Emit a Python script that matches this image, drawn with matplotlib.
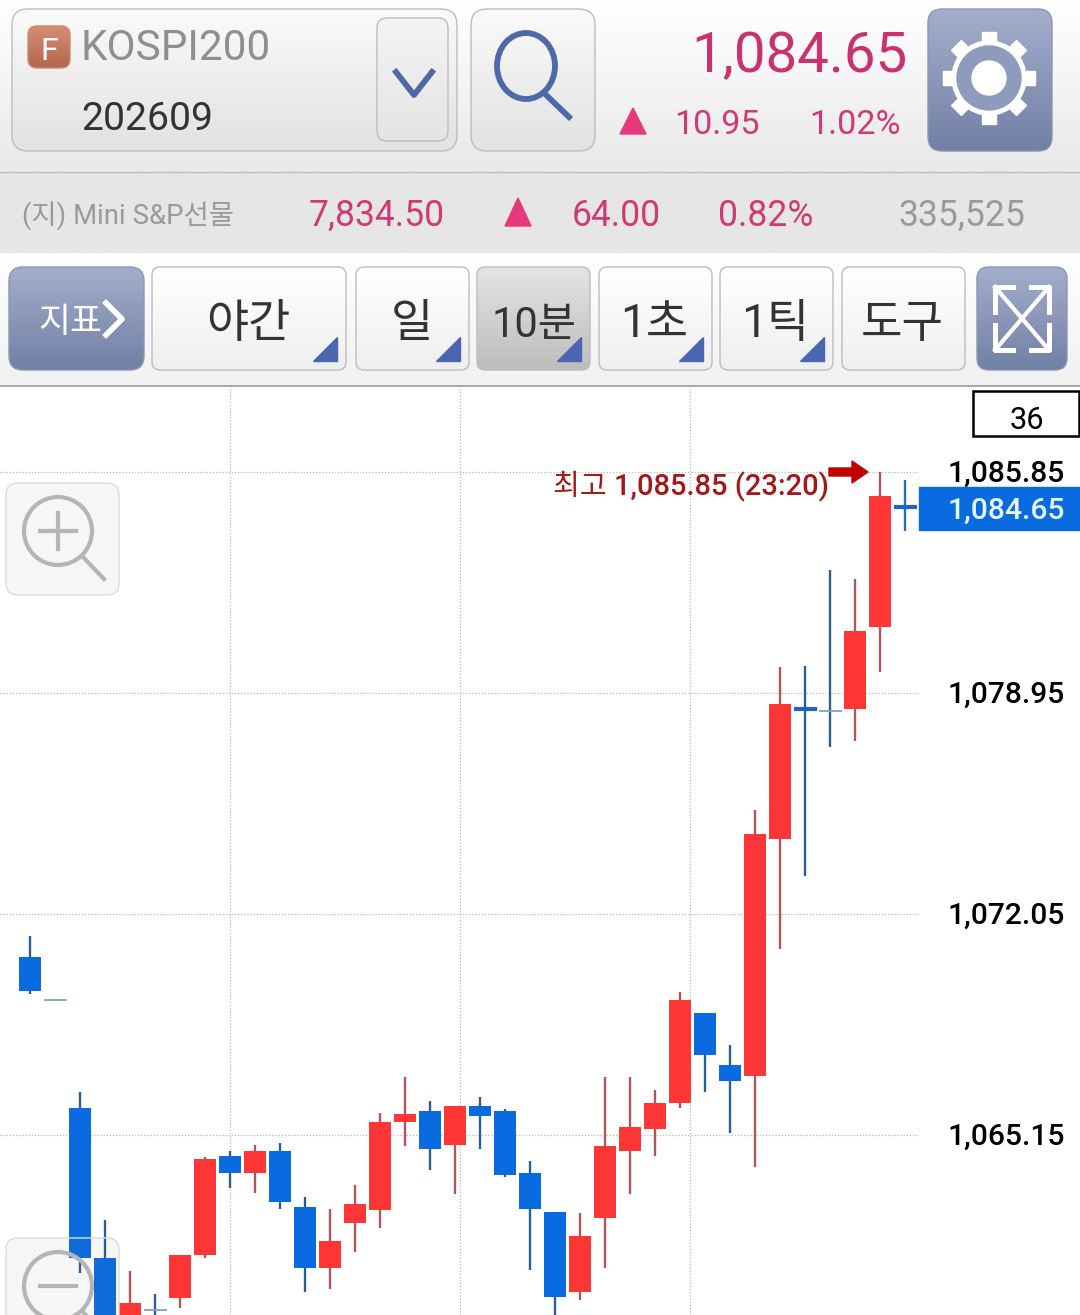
"""
KOSPI200 10 minute candle chart, trading app screen
"""

import matplotlib
matplotlib.use("Agg")

import matplotlib.pyplot as plt
import numpy as np
from matplotlib.colors import LinearSegmentedColormap
from matplotlib.patches import Circle, Ellipse, FancyBboxPatch, Polygon

plt.rcParams["font.family"] = ["Roboto", "Noto Sans CJK KR", "DejaVu Sans"]

# candle values, left to right
opens = [1070.70, 1069.35, 1066.00, 1061.30, 1059.30, 1059.70, 1060.05, 1061.40, 1064.50,
         1063.95, 1064.65, 1062.90, 1061.00, 1062.40, 1062.80, 1065.55, 1065.90, 1064.85,
         1066.05, 1065.90, 1063.95, 1062.75, 1060.25, 1062.55, 1064.65, 1065.35, 1066.15,
         1068.95, 1067.35, 1067.00, 1074.40, 1078.45, 1078.40, 1078.45, 1081.00, 1084.75]
highs = [1071.35, 1069.35, 1066.50, 1062.50, 1060.90, 1060.20, 1061.40, 1064.45, 1064.65,
         1064.85, 1064.90, 1063.20, 1062.85, 1063.60, 1065.85, 1066.95, 1066.20, 1066.05,
         1066.35, 1065.95, 1064.35, 1062.75, 1062.70, 1066.95, 1066.95, 1066.55, 1069.60,
         1068.95, 1067.95, 1075.30, 1079.75, 1079.80, 1082.80, 1082.50, 1085.85, 1085.60]
lows = [1069.55, 1069.35, 1060.85, 1059.00, 1059.05, 1059.20, 1059.75, 1061.30, 1063.50,
        1063.35, 1062.85, 1060.25, 1060.35, 1061.50, 1062.25, 1064.80, 1064.05, 1063.30,
        1064.70, 1063.85, 1060.95, 1059.20, 1060.00, 1061.00, 1063.30, 1064.50, 1066.00,
        1066.50, 1065.20, 1064.15, 1070.95, 1073.25, 1077.25, 1077.45, 1079.60, 1084.00]
closes = [1069.65, 1069.35, 1061.30, 1059.35, 1059.90, 1059.70, 1061.40, 1064.40, 1063.95,
          1064.65, 1063.05, 1061.00, 1061.85, 1063.00, 1065.55, 1065.80, 1064.70, 1066.05,
          1065.75, 1063.90, 1062.85, 1060.10, 1062.00, 1064.80, 1065.40, 1066.15, 1069.35,
          1067.65, 1066.85, 1074.55, 1078.60, 1078.45, 1078.40, 1080.90, 1085.10, 1084.75]

price_ticks = [1085.85, 1078.95, 1072.05, 1065.15]
price_labels = ["1,085.85", "1,078.95", "1,072.05", "1,065.15"]
time_lines = [8.0, 17.2, 26.38]
last_label = "1,084.65"
high_label = "최고 1,085.85 (23:20)"
candle_count = "36"

RED = "#ff3636"
BLUE = "#0a6ae0"
RED_WICK = "#b0565a"
BLUE_WICK = "#2c5f8c"
PINK = "#cf3a72"
ICON_BLUE = "#4f68a8"
CORNER = "#4a66b0"


def gradient_box(ax, x0, y0, x1, y1, top, bottom, edge="#bdbdbd", radius=12):

    box = FancyBboxPatch(
        (x0, y0),
        x1 - x0,
        y1 - y0,
        boxstyle=f"round,pad=0,rounding_size={radius}",
        facecolor="none",
        edgecolor=edge,
        linewidth=1.0,
        zorder=3,
    )
    ax.add_patch(box)

    cmap = LinearSegmentedColormap.from_list("g", [top, bottom])
    img = ax.imshow(
        np.linspace(0, 1, 64).reshape(-1, 1),
        cmap=cmap,
        extent=(x0, x1, y1, y0),
        origin="upper",
        aspect="auto",
        zorder=2,
    )
    img.set_clip_path(box)


def band(ax, y0, y1, top, bottom):

    cmap = LinearSegmentedColormap.from_list("b", [top, bottom])
    ax.imshow(
        np.linspace(0, 1, 64).reshape(-1, 1),
        cmap=cmap,
        extent=(0, 1080, y1, y0),
        origin="upper",
        aspect="auto",
        zorder=1,
    )


def draw_candles(ax):

    x = np.arange(len(opens))

    for i in x:

        up = closes[i] > opens[i]
        flat = closes[i] == opens[i]
        wick = RED_WICK if up else BLUE_WICK
        if i == len(opens) - 1:
            wick = "#2a6cc0"

        ax.vlines(i, lows[i], highs[i], color=wick, linewidth=1.7, zorder=2)

        if flat:
            thick = i in (31, 35)
            ax.hlines(
                opens[i],
                i - 0.46,
                i + 0.46,
                color="#1a66c0" if thick else "#7fa3c4",
                linewidth=3.0 if thick else 1.3,
                zorder=3,
            )
        else:
            ax.bar(
                i,
                abs(closes[i] - opens[i]),
                bottom=min(opens[i], closes[i]),
                width=0.9,
                color=RED if up else BLUE,
                zorder=3,
            )


def draw_header(ui):

    band(ui, 0, 172, "#ffffff", "#e9e9e9")
    band(ui, 172, 253, "#e6e6e6", "#e6e6e6")
    band(ui, 253, 385, "#ffffff", "#f1f1f1")
    ui.plot([0, 1080], [172, 172], color="#bcbcbc", linewidth=1, zorder=2)
    ui.plot([0, 1080], [385.5, 385.5], color="#a8a8a8", linewidth=1.4, zorder=2)

    # selector
    gradient_box(ui, 12, 9, 457, 151, "#fafafa", "#e2e2e2", radius=16)
    gradient_box(ui, 377, 18, 448, 141, "#f4f4f4", "#e4e4e4", radius=10)
    gradient_box(ui, 28, 26, 70, 68, "#d48f75", "#b5654b", edge="#c98a70", radius=9)
    ui.text(49, 60, "F", color="white", fontsize=23, ha="center", va="baseline", zorder=5)
    ui.text(81, 60, "KOSPI200", color="#8f8f8f", fontsize=30.4, va="baseline", zorder=5)
    ui.text(81, 130, "202609", color="#333333", fontsize=28.2, va="baseline", zorder=5)
    ui.plot([396, 414, 432], [72, 95, 72], color=ICON_BLUE, linewidth=4.2, zorder=5)

    # search
    gradient_box(ui, 471, 9, 595, 151, "#fafafa", "#e2e2e2", radius=16)
    ui.add_patch(Ellipse((526, 66), 58, 66, fill=False, edgecolor=ICON_BLUE, linewidth=4.2, zorder=5))
    ui.plot([544, 569], [93, 117], color=ICON_BLUE, linewidth=4.2, zorder=5)

    # quote
    ui.text(907, 72, "1,084.65", color="#c8326e", fontsize=40.6, ha="right", va="baseline", zorder=5)
    ui.add_patch(Polygon([(620, 134), (646, 134), (633, 108)], color="#e6387c", zorder=5))
    ui.text(760, 134, "10.95", color=PINK, fontsize=24.6, ha="right", va="baseline", zorder=5)
    ui.text(901, 134, "1.02%", color=PINK, fontsize=24.6, ha="right", va="baseline", zorder=5)

    # gear
    gradient_box(ui, 928, 9, 1052, 151, "#a3aeca", "#7280a6", edge="#8a96b4", radius=14)
    for k in range(8):
        a = k * np.pi / 4
        ux, uy = np.cos(a), np.sin(a)
        vx, vy = -uy, ux
        pts = [
            (989 + 30 * ux + s * 7 * vx + 0, 78 + 30 * uy + s * 7 * vy)
            for s in (-1, 1)
        ] + [
            (989 + 46 * ux + s * 7 * vx, 78 + 46 * uy + s * 7 * vy)
            for s in (1, -1)
        ]
        ui.add_patch(Polygon(pts, color="white", zorder=4))
    ui.add_patch(Circle((989, 78), 37, color="white", zorder=4))
    ui.add_patch(Circle((989, 78), 32, color="#8f9bbc", zorder=5))
    ui.add_patch(Circle((989, 78), 17, color="white", zorder=6))

    # second row
    ui.text(22, 225, "(지) Mini S&P선물", color="#9a9a9a", fontsize=19.8, va="baseline", zorder=5)
    ui.text(445, 226, "7,834.50", color=PINK, fontsize=25.6, ha="right", va="baseline", zorder=5)
    ui.add_patch(Polygon([(505, 226), (531, 226), (518, 198)], color="#e6387c", zorder=5))
    ui.text(661, 226, "64.00", color=PINK, fontsize=25.6, ha="right", va="baseline", zorder=5)
    ui.text(813, 226, "0.82%", color=PINK, fontsize=25.6, ha="right", va="baseline", zorder=5)
    ui.text(1025, 226, "335,525", color="#9a9a9a", fontsize=25.6, ha="right", va="baseline", zorder=5)

    # button row
    gradient_box(ui, 9, 267, 144, 370, "#a3aeca", "#7280a6", edge="#8a96b4", radius=14)
    ui.text(70, 332, "지표", color="white", fontsize=25, ha="center", va="baseline", zorder=5)
    ui.plot([106, 122, 106], [303, 319, 335], color="white", linewidth=4, zorder=5)

    buttons = [
        (152, 346, "야간", 33, True),
        (356, 469, "일", 33, True),
        (599, 712, "1초", 33, True),
        (720, 833, "1틱", 33, True),
        (842, 965, "도구", 32.5, False),
    ]
    for x0, x1, name, size, corner in buttons:
        gradient_box(ui, x0, 267, x1, 370, "#ffffff", "#efefef", radius=8)
        cx = (x0 + x1) / 2
        ui.text(cx - 1, 337, name, color="#333333", fontsize=size, ha="center", va="baseline", zorder=5)
        if corner:
            ui.add_patch(Polygon([(x1 - 33, 361), (x1 - 9, 361), (x1 - 9, 337)], color=CORNER, zorder=5))

    gradient_box(ui, 477, 267, 590, 370, "#e4e4e4", "#bdbdbd", radius=8)
    ui.text(534, 337, "10분", color="#333333", fontsize=30, ha="center", va="baseline", zorder=5)
    ui.add_patch(Polygon([(557, 361), (581, 361), (581, 337)], color=CORNER, zorder=5))

    # expand button
    gradient_box(ui, 977, 267, 1067, 370, "#a3aeca", "#7280a6", edge="#8a96b4", radius=12)
    ui.plot([995, 1049], [287, 350], color="white", linewidth=3, zorder=5)
    ui.plot([1049, 995], [287, 350], color="white", linewidth=3, zorder=5)
    ui.plot([1013, 995, 995], [287, 287, 312], color="white", linewidth=3.6, zorder=5)
    ui.plot([1031, 1049, 1049], [287, 287, 312], color="white", linewidth=3.6, zorder=5)
    ui.plot([1013, 995, 995], [350, 350, 325], color="white", linewidth=3.6, zorder=5)
    ui.plot([1031, 1049, 1049], [350, 350, 325], color="white", linewidth=3.6, zorder=5)


def draw_overlays(ui):

    # count box
    ui.add_patch(plt.Rectangle((973, 391), 106, 45, facecolor="white", edgecolor="black", linewidth=1.8, zorder=5))
    ui.text(1027, 429, candle_count, color="black", fontsize=22.2, ha="center", va="baseline", zorder=6)

    # last price tag
    ui.add_patch(plt.Rectangle((919, 487), 161, 43, color=BLUE, zorder=5))
    ui.text(1065, 519, last_label, color="#e8f6ff", fontsize=21.6, ha="right", va="baseline", zorder=6, weight=500)

    # high marker
    ui.text(829, 495, high_label, color="#a51818", fontsize=21, ha="right", va="baseline", zorder=6, weight=500)
    arrow = [(829, 468), (852, 468), (852, 461), (868, 472), (852, 483), (852, 476), (829, 476)]
    ui.add_patch(Polygon(arrow, color="#c00000", zorder=6))

    # zoom buttons, lie over the candles
    for y0, y1, cy, minus in ((483, 595, 531, False), (1238, 1350, 1286, True)):
        ui.add_patch(
            FancyBboxPatch(
                (6, y0),
                113,
                y1 - y0,
                boxstyle="round,pad=0,rounding_size=12",
                facecolor=(0.45, 0.45, 0.45, 0.06),
                edgecolor="#dcdcdc",
                linewidth=1.0,
                zorder=7,
            )
        )
        ui.add_patch(Circle((58, cy), 34, fill=False, edgecolor="#b5b5b5", linewidth=3, zorder=8))
        ui.plot([40, 76], [cy, cy], color="#b5b5b5", linewidth=3, zorder=8)
        ui.plot([82, 104], [cy + 25, cy + 48], color="#b5b5b5", linewidth=3, zorder=8)
        if not minus:
            ui.plot([58, 58], [cy - 18, cy + 18], color="#b5b5b5", linewidth=3, zorder=8)


def main():

    fig = plt.figure(figsize=(10.8, 13.15), dpi=100, facecolor="white")

    # chart area, y 386 to 1315 pixels
    ax = fig.add_axes([0, 0, 1, (1315 - 386) / 1315])
    per_pixel = 6.9 / 221
    ax.set_xlim(-30 / 25, 1050 / 25)
    ax.set_ylim(1065.15 - 180 * per_pixel, 1065.15 + 749 * per_pixel)
    ax.axis("off")

    grid = dict(color="#b8b8b8", linewidth=0.9, linestyle=(0, (1, 1.5)), zorder=1)
    grid_right = (917 - 30) / 25
    ax.hlines(price_ticks, -30 / 25, grid_right, **grid)
    ax.vlines(time_lines, ax.get_ylim()[0], ax.get_ylim()[1], **grid)

    draw_candles(ax)

    label_x = ax.get_yaxis_transform()
    for price, label in zip(price_ticks, price_labels):
        ax.text(
            1065 / 1080,
            price + 1.5 * per_pixel,
            label,
            transform=label_x,
            color="black",
            fontsize=21.6,
            ha="right",
            va="center_baseline",
            weight=500,
        )

    # everything else in screen pixels
    ui = fig.add_axes([0, 0, 1, 1], zorder=3)
    ui.patch.set_alpha(0)
    ui.axis("off")

    draw_header(ui)
    draw_overlays(ui)

    ui.set_xlim(0, 1080)
    ui.set_ylim(1315, 0)

    fig.savefig("out.png", dpi=100)


if __name__ == "__main__":

    main()
